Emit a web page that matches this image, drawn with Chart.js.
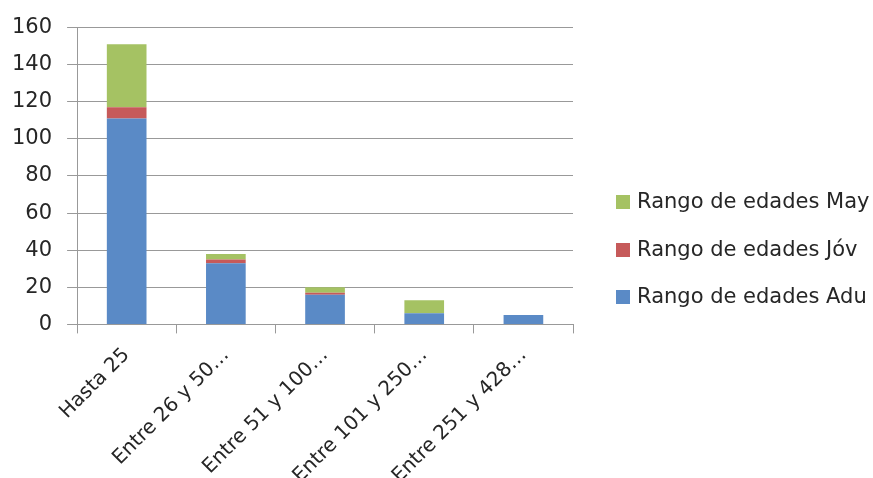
<!DOCTYPE html>
<html>
<head>
<meta charset="utf-8">
<script src="https://cdn.jsdelivr.net/npm/chart.js@4/dist/chart.umd.min.js"></script>
<style>
  html, body { margin: 0; padding: 0; background: #ffffff; }
  #wrap { width: 873px; height: 478px; }
</style>
</head>
<body>
<div id="wrap"><canvas id="chart" width="873" height="478"></canvas></div>
<script>
// Categories (group sizes) and stacked age-range counts
const categories = ['Hasta 25', 'Entre 26 y 50…', 'Entre 51 y 100…', 'Entre 101 y 250…', 'Entre 251 y 428…'];
const adultos = [111, 33, 16, 6, 5];
const jovenes = [6, 2, 1, 0, 0];
const mayores = [34, 3, 3, 7, 0];
const seriesNames = ['Rango de edades Adu', 'Rango de edades Jóv', 'Rango de edades May'];
const seriesColors = ['#5A8AC6', '#C65A5A', '#A5C263'];
const yTicks = [0, 20, 40, 60, 80, 100, 120, 140, 160];

const FONT = '"DejaVu Sans", Verdana, sans-serif';
const TEXT = '#262626';
const GRID = '#999999';

// Legend drawn to the right of the plot, last series on top
const sideLegend = {
  id: 'sideLegend',
  afterDraw(chart) {
    const ctx = chart.ctx;
    const area = chart.chartArea;
    const sets = chart.data.datasets.slice().reverse();
    const boxX = area.right + 43;
    const firstY = 202;
    const step = 47.6;
    ctx.save();
    ctx.font = '21px ' + FONT;
    ctx.textBaseline = 'middle';
    ctx.textAlign = 'left';
    sets.forEach((ds, i) => {
      const cy = Math.round(firstY + i * step);
      ctx.fillStyle = ds.backgroundColor;
      ctx.fillRect(boxX, cy - 7, 14, 14);
      ctx.fillStyle = TEXT;
      ctx.fillText(ds.label, boxX + 21, cy + 1);
    });
    ctx.restore();
  }
};

new Chart(document.getElementById('chart'), {
  type: 'bar',
  data: {
    labels: categories,
    datasets: seriesNames.map((name, i) => ({
      label: name,
      data: [adultos, jovenes, mayores][i],
      backgroundColor: seriesColors[i]
    }))
  },
  options: {
    responsive: false,
    animation: false,
    datasets: { bar: { categoryPercentage: 1, barPercentage: 0.4 } },
    layout: { autoPadding: false, padding: { left: -3, right: 300, top: 26, bottom: -20 } },
    scales: {
      x: {
        stacked: true,
        offset: true,
        grid: { display: true, drawOnChartArea: false, offset: true, tickLength: 9, color: GRID },
        border: { color: GRID },
        ticks: { autoSkip: false, maxRotation: 45, minRotation: 45, color: TEXT, font: { family: FONT, size: 20 }, padding: 10 }
      },
      y: {
        stacked: true,
        min: 0,
        max: 160,
        afterBuildTicks: (axis) => { axis.ticks = yTicks.map(v => ({ value: v })); },
        grid: { color: GRID, tickLength: 10 },
        border: { color: GRID },
        ticks: { color: TEXT, font: { family: FONT, size: 21 }, padding: 15 }
      }
    },
    plugins: {
      tooltip: { enabled: false },
      legend: { display: false }
    }
  },
  plugins: [sideLegend]
});
</script>
</body>
</html>
